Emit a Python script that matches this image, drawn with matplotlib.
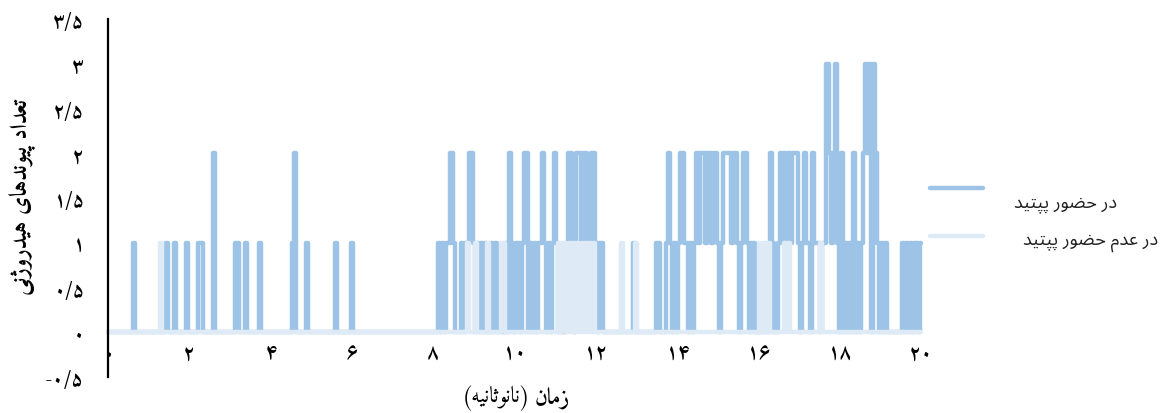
import numpy as np
import matplotlib
matplotlib.use("Agg")
import matplotlib.pyplot as plt
from matplotlib.lines import Line2D

# ---------------------------------------------------------------- data
# Hydrogen-bond counts sampled every 0.05 ns; only non-zero samples are listed.
step_ns = 0.05
t_end = 20.0

with_peptide_t = [
    0.65, 1.45, 1.65, 1.95, 2.25, 2.30, 2.60, 3.15, 3.20, 3.40, 3.75, 4.55, 4.60, 4.90, 5.60, 6.00,
    8.15, 8.25, 8.35, 8.40, 8.45, 8.50, 8.70, 8.80, 8.85, 8.90, 8.95, 9.00, 9.10, 9.20, 9.30,
    9.45, 9.55, 9.80, 9.90, 9.95, 10.05, 10.10, 10.20, 10.25, 10.30,
    10.40, 10.50, 10.60, 10.65, 10.70, 10.75, 10.85, 10.95, 11.00, 11.05,
    11.30, 11.35, 11.40, 11.45, 11.55, 11.60, 11.65, 11.70, 11.75, 11.80, 11.85, 11.90, 11.95, 12.00,
    12.10, 12.15, 12.95, 13.50, 13.55,
    13.75, 13.80, 13.85, 13.95, 14.05, 14.10, 14.15, 14.20, 14.25, 14.35,
    14.45, 14.50, 14.55, 14.60, 14.65, 14.70, 14.75, 14.80, 14.85, 14.90, 14.95, 15.00,
    15.10, 15.15, 15.20, 15.25, 15.30, 15.35, 15.40, 15.45, 15.50,
    15.60, 15.65, 15.70, 15.75, 15.85, 15.90, 16.30, 16.35,
    16.50, 16.55, 16.60, 16.65, 16.70, 16.75, 16.80, 16.85, 16.90, 16.95, 17.00,
    17.10, 17.15, 17.20, 17.25, 17.35, 17.40, 17.45, 17.50, 17.60,
    17.65, 17.70, 17.75, 17.80, 17.85, 17.90, 17.95, 18.05, 18.15, 18.25, 18.35, 18.45, 18.55,
    18.60, 18.65, 18.70, 18.75, 18.85, 18.90, 18.95, 19.05, 19.15,
    19.55, 19.65, 19.75, 19.85, 19.90, 20.00,
]
with_peptide_v = [
    1, 1, 1, 1, 1, 1, 2, 1, 1, 1, 1, 1, 2, 1, 1, 1,
    1, 1, 1, 1, 2, 1, 1, 1, 1, 2, 2, 1, 1, 1, 1,
    1, 1, 1, 2, 1, 1, 1, 1, 2, 2,
    1, 1, 1, 1, 2, 1, 1, 1, 2, 1,
    1, 2, 2, 1, 2, 2, 1, 2, 2, 1, 1, 2, 2, 1,
    1, 1, 1, 1, 1,
    1, 2, 1, 1, 1, 2, 2, 1, 1, 1,
    1, 2, 1, 2, 2, 1, 2, 2, 1, 2, 2, 1,
    1, 2, 2, 2, 2, 1, 2, 2, 1,
    1, 2, 2, 1, 1, 1, 2, 1,
    1, 2, 1, 2, 1, 2, 1, 2, 2, 2, 1,
    1, 2, 1, 1, 2, 1, 1, 1, 1,
    1, 3, 2, 1, 2, 3, 1, 2, 1, 1, 2, 1, 1,
    2, 3, 2, 3, 3, 2, 1, 1, 1,
    1, 1, 1, 1, 1, 1,
]

without_peptide_t = [
    1.30, 8.85, 9.05, 9.35, 9.70, 9.75, 11.10, 11.20, 11.25,
    11.35, 11.45, 11.55, 11.65, 11.75, 11.85, 11.95,
    12.65, 13.00, 16.05, 16.15, 16.25, 16.65, 16.75, 17.55,
]
without_peptide_v = [1] * len(without_peptide_t)

series_labels = ["در حضور پپتید", "در عدم حضور پپتید"]
series_colors = ["#9DC3E6", "#DEEBF7"]
x_ticks = [0, 2, 4, 6, 8, 10, 12, 14, 16, 18, 20]
y_ticks = [-0.5, 0, 0.5, 1, 1.5, 2, 2.5, 3, 3.5]
y_title = "تعداد پیوندهای هیدروژنی"
x_title_bold = "زمان"
x_title_rest = "(نانوثانیه)"

# ------------------------------------------------- Persian text helpers
FORMS = {
    '\u0627': ('\uFE8D', '\uFE8E', None, None),
    '\u067E': ('\uFB56', '\uFB57', '\uFB58', '\uFB59'),
    '\u062A': ('\uFE95', '\uFE96', '\uFE97', '\uFE98'),
    '\u062B': ('\uFE99', '\uFE9A', '\uFE9B', '\uFE9C'),
    '\u062D': ('\uFEA1', '\uFEA2', '\uFEA3', '\uFEA4'),
    '\u062F': ('\uFEA9', '\uFEAA', None, None),
    '\u0631': ('\uFEAD', '\uFEAE', None, None),
    '\u0632': ('\uFEAF', '\uFEB0', None, None),
    '\u0698': ('\uFB8A', '\uFB8B', None, None),
    '\u0636': ('\uFEBD', '\uFEBE', '\uFEBF', '\uFEC0'),
    '\u0639': ('\uFEC9', '\uFECA', '\uFECB', '\uFECC'),
    '\u0645': ('\uFEE1', '\uFEE2', '\uFEE3', '\uFEE4'),
    '\u0646': ('\uFEE5', '\uFEE6', '\uFEE7', '\uFEE8'),
    '\u0647': ('\uFEE9', '\uFEEA', '\uFEEB', '\uFEEC'),
    '\u0648': ('\uFEED', '\uFEEE', None, None),
    '\u06CC': ('\uFBFC', '\uFBFD', '\uFBFE', '\uFBFF'),
}
MIRROR = {'(': ')', ')': '('}


def shape(text):
    """Contextual letter forms, laid out right-to-left for a LTR renderer."""
    out = []
    for i, ch in enumerate(text):
        f = FORMS.get(ch)
        if f is None:
            out.append(MIRROR.get(ch, ch))
            continue
        prev = FORMS.get(text[i - 1]) if i > 0 else None
        nxt = FORMS.get(text[i + 1]) if i + 1 < len(text) else None
        jp = prev is not None and prev[2] is not None
        jn = f[2] is not None and nxt is not None
        out.append(f[3] if (jp and jn) else f[1] if jp else f[2] if jn else f[0])
    return ''.join(reversed(out))


def fa_num(v):
    s = f"{v:g}".replace('.', '/')
    return s.translate(str.maketrans("0123456789", "۰۱۲۳۴۵۶۷۸۹"))


def build_series(times, values):
    n = int(round(t_end / step_ns)) + 1
    y = np.zeros(n)
    for t, v in zip(times, values):
        y[int(round(t / step_ns))] = v
    return np.arange(n) * step_ns, y


# ---------------------------------------------------------------- figure
W, H = 1164, 414
fig = plt.figure(figsize=(W / 100, H / 100), dpi=100)
ax = fig.add_axes([108 / W, 1 - 378 / H, (921 - 108) / W, (378 - 20) / H])

for (tt, vv), col in zip([(with_peptide_t, with_peptide_v),
                          (without_peptide_t, without_peptide_v)], series_colors):
    x, y = build_series(tt, vv)
    ax.plot(x, y, color=col, lw=3.2, drawstyle='steps-mid',
            solid_joinstyle='round', solid_capstyle='round', clip_on=False)

ax.set_xlim(0, 20)
ax.set_ylim(-0.5, 3.5)
for s in ('top', 'right'):
    ax.spines[s].set_visible(False)
ax.spines['bottom'].set_position(('data', 0))
ax.spines['bottom'].set_visible(False)
ax.spines['left'].set_linewidth(1.6)
ax.spines['left'].set_color('black')

num_font = dict(family='Amiri', weight='bold', size=15)
ax.set_xticks(x_ticks)
ax.set_xticklabels([fa_num(v) for v in x_ticks], fontdict=num_font)
ax.set_yticks(y_ticks)
ax.set_yticklabels([('-' + fa_num(-v)) if v < 0 else fa_num(v) for v in y_ticks],
                   fontdict=num_font)
ax.tick_params(axis='x', length=0, pad=8)
ax.tick_params(axis='y', length=0, pad=17)

fig.text(22 / W, 1 - 197 / H, shape(y_title), rotation=90, ha='center', va='center',
         family='Amiri', weight='bold', size=17)
fig.text(535 / W, 1 - 398 / H, shape(x_title_bold), ha='left', va='center',
         family='Amiri', weight='bold', size=16)
fig.text(531 / W, 1 - 398 / H, shape(x_title_rest), ha='right', va='center',
         family='Amiri', weight='normal', size=16)

# legend
legend_rows = [(189, 204, 1117), (237, 243, 1158)]
for (ly, ty, tx), col, lab in zip(legend_rows, series_colors, series_labels):
    fig.add_artist(Line2D([930 / W, 983 / W], [1 - ly / H, 1 - ly / H],
                          transform=fig.transFigure, color=col, lw=3.2,
                          solid_capstyle='round'))
    fig.text(tx / W, 1 - ty / H, shape(lab), ha='right', va='center',
             family='Noto Sans Arabic', size=13, color='#222222')

fig.savefig("out.png", dpi=100)
